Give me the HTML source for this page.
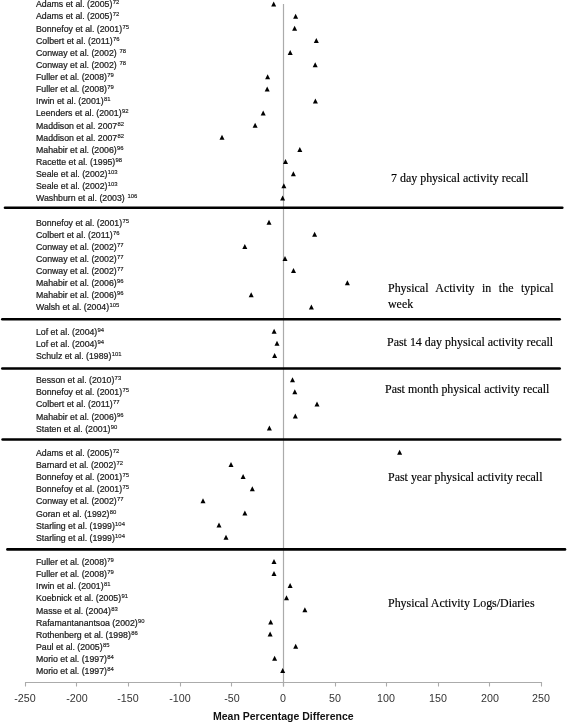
<!DOCTYPE html>
<html><head><meta charset="utf-8"><style>
html,body{margin:0;padding:0;background:#fff;}
body{width:567px;height:723px;position:relative;overflow:hidden;}
svg{position:absolute;left:0;top:0;}
.l,.t,.k,.ttl{will-change:transform;}
.l{position:absolute;left:35.6px;font-family:"Liberation Sans",sans-serif;font-size:8.75px;line-height:10px;color:#1a1a1a;-webkit-text-stroke:0.22px #1a1a1a;white-space:nowrap;}
.l sup{font-size:5.9px;vertical-align:0;position:relative;top:-2.9px;margin-left:0.3px;-webkit-text-stroke:0.15px #1a1a1a;}
.t{position:absolute;font-family:"Liberation Serif",serif;font-size:11.95px;line-height:15px;color:#000;-webkit-text-stroke:0.15px #000;white-space:nowrap;}
.k{position:absolute;font-family:"Liberation Sans",sans-serif;font-size:10.7px;line-height:12px;color:#333;width:40px;text-align:center;}
.ttl{position:absolute;font-family:"Liberation Sans",sans-serif;font-weight:bold;font-size:10.5px;line-height:12px;color:#111;white-space:nowrap;}
</style></head><body>

<svg width="567" height="723" viewBox="0 0 567 723">
<line x1="283.5" y1="4" x2="283.5" y2="686.5" stroke="#ababab" stroke-width="1.2"/>
<line x1="25" y1="682.5" x2="542" y2="682.5" stroke="#ababab" stroke-width="1.1"/>
<line x1="25.50" y1="682" x2="25.50" y2="686.5" stroke="#ababab" stroke-width="1.1"/>
<line x1="76.50" y1="682" x2="76.50" y2="686.5" stroke="#ababab" stroke-width="1.1"/>
<line x1="128.50" y1="682" x2="128.50" y2="686.5" stroke="#ababab" stroke-width="1.1"/>
<line x1="180.50" y1="682" x2="180.50" y2="686.5" stroke="#ababab" stroke-width="1.1"/>
<line x1="231.50" y1="682" x2="231.50" y2="686.5" stroke="#ababab" stroke-width="1.1"/>
<line x1="283.50" y1="682" x2="283.50" y2="686.5" stroke="#ababab" stroke-width="1.1"/>
<line x1="335.50" y1="682" x2="335.50" y2="686.5" stroke="#ababab" stroke-width="1.1"/>
<line x1="386.50" y1="682" x2="386.50" y2="686.5" stroke="#ababab" stroke-width="1.1"/>
<line x1="438.50" y1="682" x2="438.50" y2="686.5" stroke="#ababab" stroke-width="1.1"/>
<line x1="489.50" y1="682" x2="489.50" y2="686.5" stroke="#ababab" stroke-width="1.1"/>
<line x1="541.50" y1="682" x2="541.50" y2="686.5" stroke="#ababab" stroke-width="1.1"/>
<line x1="5.0" y1="207.7" x2="562.3" y2="207.7" stroke="#000" stroke-width="2.6" stroke-linecap="round"/>
<line x1="2.3" y1="319.3" x2="559.7" y2="319.3" stroke="#000" stroke-width="2.6" stroke-linecap="round"/>
<line x1="2.3" y1="368.5" x2="559.7" y2="368.5" stroke="#000" stroke-width="2.6" stroke-linecap="round"/>
<line x1="2.6" y1="439.5" x2="560.2" y2="439.5" stroke="#000" stroke-width="2.6" stroke-linecap="round"/>
<line x1="7.4" y1="549.4" x2="565.0" y2="549.4" stroke="#000" stroke-width="2.6" stroke-linecap="round"/>
<path d="M271.20 6.59L276.20 6.59L273.70 1.59Z" fill="#000"/>
<path d="M293.10 18.70L298.10 18.70L295.60 13.70Z" fill="#000"/>
<path d="M292.10 30.82L297.10 30.82L294.60 25.82Z" fill="#000"/>
<path d="M313.80 42.94L318.80 42.94L316.30 37.94Z" fill="#000"/>
<path d="M287.70 55.05L292.70 55.05L290.20 50.05Z" fill="#000"/>
<path d="M312.70 67.17L317.70 67.17L315.20 62.17Z" fill="#000"/>
<path d="M265.10 79.28L270.10 79.28L267.60 74.28Z" fill="#000"/>
<path d="M264.70 91.40L269.70 91.40L267.20 86.40Z" fill="#000"/>
<path d="M312.90 103.51L317.90 103.51L315.40 98.51Z" fill="#000"/>
<path d="M260.70 115.62L265.70 115.62L263.20 110.62Z" fill="#000"/>
<path d="M252.60 127.74L257.60 127.74L255.10 122.74Z" fill="#000"/>
<path d="M219.50 139.86L224.50 139.86L222.00 134.86Z" fill="#000"/>
<path d="M297.30 151.97L302.30 151.97L299.80 146.97Z" fill="#000"/>
<path d="M283.00 164.09L288.00 164.09L285.50 159.09Z" fill="#000"/>
<path d="M290.90 176.20L295.90 176.20L293.40 171.20Z" fill="#000"/>
<path d="M281.40 188.31L286.40 188.31L283.90 183.31Z" fill="#000"/>
<path d="M280.10 200.43L285.10 200.43L282.60 195.43Z" fill="#000"/>
<path d="M266.50 224.66L271.50 224.66L269.00 219.66Z" fill="#000"/>
<path d="M312.10 236.78L317.10 236.78L314.60 231.78Z" fill="#000"/>
<path d="M242.30 248.89L247.30 248.89L244.80 243.89Z" fill="#000"/>
<path d="M282.50 261.00L287.50 261.00L285.00 256.00Z" fill="#000"/>
<path d="M291.00 273.12L296.00 273.12L293.50 268.12Z" fill="#000"/>
<path d="M344.90 285.23L349.90 285.23L347.40 280.23Z" fill="#000"/>
<path d="M248.70 297.35L253.70 297.35L251.20 292.35Z" fill="#000"/>
<path d="M308.90 309.46L313.90 309.46L311.40 304.46Z" fill="#000"/>
<path d="M271.60 333.69L276.60 333.69L274.10 328.69Z" fill="#000"/>
<path d="M274.50 345.81L279.50 345.81L277.00 340.81Z" fill="#000"/>
<path d="M272.10 357.92L277.10 357.92L274.60 352.92Z" fill="#000"/>
<path d="M290.00 382.15L295.00 382.15L292.50 377.15Z" fill="#000"/>
<path d="M292.30 394.27L297.30 394.27L294.80 389.27Z" fill="#000"/>
<path d="M314.50 406.38L319.50 406.38L317.00 401.38Z" fill="#000"/>
<path d="M292.80 418.50L297.80 418.50L295.30 413.50Z" fill="#000"/>
<path d="M266.90 430.62L271.90 430.62L269.40 425.62Z" fill="#000"/>
<path d="M397.10 454.84L402.10 454.84L399.60 449.84Z" fill="#000"/>
<path d="M228.50 466.96L233.50 466.96L231.00 461.96Z" fill="#000"/>
<path d="M240.60 479.07L245.60 479.07L243.10 474.07Z" fill="#000"/>
<path d="M249.80 491.19L254.80 491.19L252.30 486.19Z" fill="#000"/>
<path d="M200.50 503.31L205.50 503.31L203.00 498.31Z" fill="#000"/>
<path d="M242.40 515.42L247.40 515.42L244.90 510.42Z" fill="#000"/>
<path d="M216.50 527.54L221.50 527.54L219.00 522.54Z" fill="#000"/>
<path d="M223.50 539.65L228.50 539.65L226.00 534.65Z" fill="#000"/>
<path d="M271.50 563.88L276.50 563.88L274.00 558.88Z" fill="#000"/>
<path d="M271.50 576.00L276.50 576.00L274.00 571.00Z" fill="#000"/>
<path d="M287.60 588.11L292.60 588.11L290.10 583.11Z" fill="#000"/>
<path d="M284.00 600.23L289.00 600.23L286.50 595.23Z" fill="#000"/>
<path d="M302.40 612.34L307.40 612.34L304.90 607.34Z" fill="#000"/>
<path d="M268.20 624.46L273.20 624.46L270.70 619.46Z" fill="#000"/>
<path d="M267.60 636.57L272.60 636.57L270.10 631.57Z" fill="#000"/>
<path d="M293.20 648.69L298.20 648.69L295.70 643.69Z" fill="#000"/>
<path d="M272.10 660.80L277.10 660.80L274.60 655.80Z" fill="#000"/>
<path d="M280.20 672.92L285.20 672.92L282.70 667.92Z" fill="#000"/>
</svg>
<div class="l" style="top:-0.74px">Adams et al. (2005)<sup>72</sup></div>
<div class="l" style="top:11.38px">Adams et al. (2005)<sup>72</sup></div>
<div class="l" style="top:23.51px">Bonnefoy et al. (2001)<sup>75</sup></div>
<div class="l" style="top:35.63px">Colbert et al. (2011)<sup>76</sup></div>
<div class="l" style="top:47.76px">Conway et al. (2002) <sup>78</sup></div>
<div class="l" style="top:59.88px">Conway et al. (2002) <sup>78</sup></div>
<div class="l" style="top:72.01px">Fuller et al. (2008)<sup>79</sup></div>
<div class="l" style="top:84.13px">Fuller et al. (2008)<sup>79</sup></div>
<div class="l" style="top:96.26px">Irwin et al. (2001)<sup>81</sup></div>
<div class="l" style="top:108.38px">Leenders et al. (2001)<sup>92</sup></div>
<div class="l" style="top:120.51px">Maddison et al. 2007<sup>82</sup></div>
<div class="l" style="top:132.63px">Maddison et al. 2007<sup>82</sup></div>
<div class="l" style="top:144.76px">Mahabir et al. (2006)<sup>96</sup></div>
<div class="l" style="top:156.88px">Racette et al. (1995)<sup>98</sup></div>
<div class="l" style="top:169.01px">Seale et al. (2002)<sup>103</sup></div>
<div class="l" style="top:181.13px">Seale et al. (2002)<sup>103</sup></div>
<div class="l" style="top:193.26px">Washburn et al. (2003) <sup>106</sup></div>
<div class="l" style="top:217.51px">Bonnefoy et al. (2001)<sup>75</sup></div>
<div class="l" style="top:229.63px">Colbert et al. (2011)<sup>76</sup></div>
<div class="l" style="top:241.76px">Conway et al. (2002)<sup>77</sup></div>
<div class="l" style="top:253.88px">Conway et al. (2002)<sup>77</sup></div>
<div class="l" style="top:266.01px">Conway et al. (2002)<sup>77</sup></div>
<div class="l" style="top:278.13px">Mahabir et al. (2006)<sup>96</sup></div>
<div class="l" style="top:290.26px">Mahabir et al. (2006)<sup>96</sup></div>
<div class="l" style="top:302.38px">Walsh et al. (2004)<sup>105</sup></div>
<div class="l" style="top:326.63px">Lof et al. (2004)<sup>94</sup></div>
<div class="l" style="top:338.76px">Lof et al. (2004)<sup>94</sup></div>
<div class="l" style="top:350.88px">Schulz et al. (1989)<sup>101</sup></div>
<div class="l" style="top:375.13px">Besson et al. (2010)<sup>73</sup></div>
<div class="l" style="top:387.26px">Bonnefoy et al. (2001)<sup>75</sup></div>
<div class="l" style="top:399.38px">Colbert et al. (2011)<sup>77</sup></div>
<div class="l" style="top:411.51px">Mahabir et al. (2006)<sup>96</sup></div>
<div class="l" style="top:423.63px">Staten et al. (2001)<sup>90</sup></div>
<div class="l" style="top:447.88px">Adams et al. (2005)<sup>72</sup></div>
<div class="l" style="top:460.01px">Barnard et al. (2002)<sup>72</sup></div>
<div class="l" style="top:472.13px">Bonnefoy et al. (2001)<sup>75</sup></div>
<div class="l" style="top:484.26px">Bonnefoy et al. (2001)<sup>75</sup></div>
<div class="l" style="top:496.38px">Conway et al. (2002)<sup>77</sup></div>
<div class="l" style="top:508.51px">Goran et al. (1992)<sup>80</sup></div>
<div class="l" style="top:520.63px">Starling et al. (1999)<sup>104</sup></div>
<div class="l" style="top:532.76px">Starling et al. (1999)<sup>104</sup></div>
<div class="l" style="top:557.01px">Fuller et al. (2008)<sup>79</sup></div>
<div class="l" style="top:569.13px">Fuller et al. (2008)<sup>79</sup></div>
<div class="l" style="top:581.26px">Irwin et al. (2001)<sup>81</sup></div>
<div class="l" style="top:593.38px">Koebnick et al. (2005)<sup>91</sup></div>
<div class="l" style="top:605.51px">Masse et al. (2004)<sup>83</sup></div>
<div class="l" style="top:617.63px">Rafamantanantsoa (2002)<sup>90</sup></div>
<div class="l" style="top:629.76px">Rothenberg et al. (1998)<sup>86</sup></div>
<div class="l" style="top:641.88px">Paul et al. (2005)<sup>85</sup></div>
<div class="l" style="top:654.01px">Morio et al. (1997)<sup>84</sup></div>
<div class="l" style="top:666.13px">Morio et al. (1997)<sup>84</sup></div>
<div class="t" style="left:390.7px;top:170.52px">7 day physical activity recall</div>
<div class="t" style="left:386.8px;top:334.62px">Past 14 day physical activity recall</div>
<div class="t" style="left:385.2px;top:382.32px">Past month physical activity recall</div>
<div class="t" style="left:387.9px;top:470.22px">Past year physical activity recall</div>
<div class="t" style="left:387.9px;top:595.52px">Physical Activity Logs/Diaries</div>
<div class="t" style="left:387.8px;top:280.57px;width:165.5px;white-space:normal;text-align:justify;line-height:15.5px">Physical Activity in the typical week</div>
<div class="k" style="left:5.00px;top:692.26px">-250</div>
<div class="k" style="left:56.63px;top:692.26px">-200</div>
<div class="k" style="left:108.26px;top:692.26px">-150</div>
<div class="k" style="left:159.89px;top:692.26px">-100</div>
<div class="k" style="left:211.52px;top:692.26px">-50</div>
<div class="k" style="left:263.15px;top:692.26px">0</div>
<div class="k" style="left:314.78px;top:692.26px">50</div>
<div class="k" style="left:366.41px;top:692.26px">100</div>
<div class="k" style="left:418.04px;top:692.26px">150</div>
<div class="k" style="left:469.67px;top:692.26px">200</div>
<div class="k" style="left:521.30px;top:692.26px">250</div>
<div class="ttl" style="left:212.5px;top:710.13px">Mean Percentage Difference</div>
</body></html>
